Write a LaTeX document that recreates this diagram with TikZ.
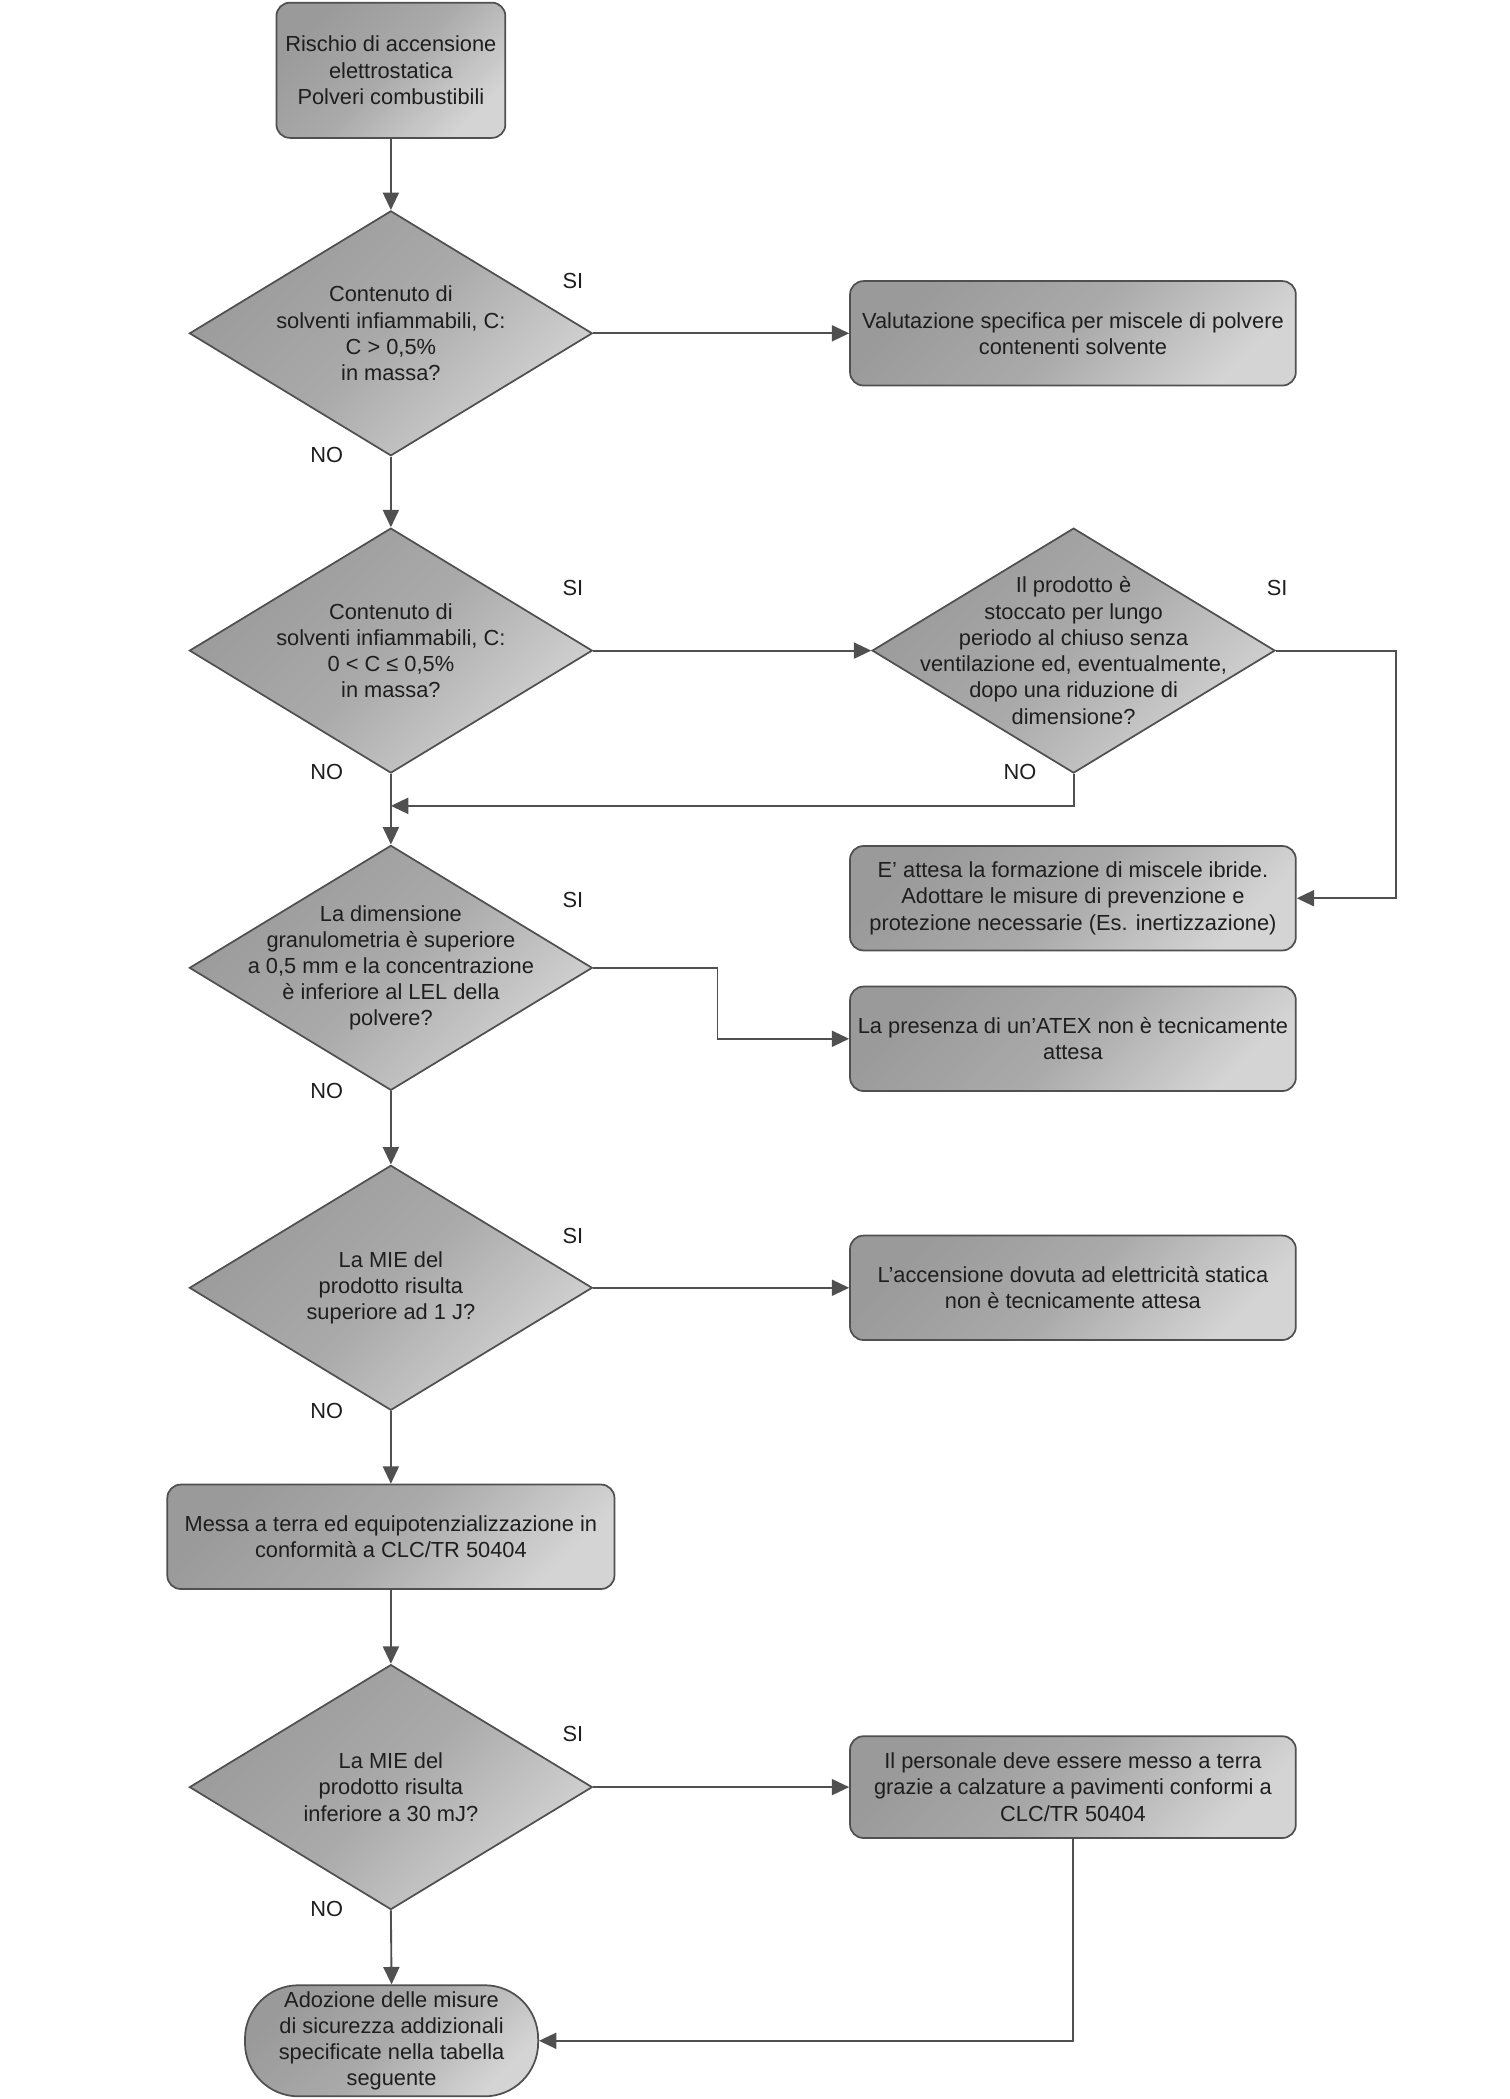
\documentclass[tikz,border=0pt]{standalone}
\usepackage{fontspec}
\setmainfont{Liberation Sans}
\usetikzlibrary{shapes.geometric,arrows.meta}
\definecolor{lncol}{HTML}{505050}
\definecolor{fillA}{HTML}{9A9A9A}
\definecolor{fillM}{HTML}{AAAAAA}
\definecolor{fillB}{HTML}{D4D4D4}
\definecolor{txtcol}{HTML}{1E1E1E}
\tikzset{
  grayfill/.style={top color=fillA, bottom color=fillB, middle color=fillM, shading angle=45},
  basefont/.style={font=\fontsize{16.3}{19.6}\selectfont, text=txtcol},
  boxnode/.style={draw=lncol, line width=1.3pt, rounded corners=10pt, grayfill,
    minimum width=333pt, minimum height=78pt, inner sep=0pt, align=center, basefont},
  dianode/.style={diamond, draw=lncol, line width=1.3pt, grayfill,
    minimum width=301pt, minimum height=183pt, inner sep=0pt},
  txt/.style={basefont, align=center, inner sep=0pt},
  lab/.style={basefont, inner sep=0pt},
  conn/.style={draw=lncol, line width=1.4pt, -{Triangle[length=13pt,width=12pt]}},
}
\begin{document}
\begin{tikzpicture}[x=1pt,y=-1pt]
\fill[white] (0,0) rectangle (1127.5,1568);
\useasboundingbox (0,0) rectangle (1127.5,1568);

% main column
\node[boxnode, minimum width=171pt, minimum height=101pt] (top) at (292,52.5)
  {Rischio di accensione\\elettrostatica\\Polveri combustibili};

\node[dianode] (d1) at (292,249) {};
\node[txt] (d1t) at (d1.center) {Contenuto di\\solventi infiammabili, C:\\C > 0,5\%\\in massa?};

\node[dianode] (d2) at (292,486) {};
\node[txt] (d2t) at (d2.center) {Contenuto di\\solventi infiammabili, C:\\0 < C ≤ 0,5\%\\in massa?};

\node[dianode] (d3) at (802,486) {};
\node[txt] (d3t) at (d3.center) {Il prodotto è\\stoccato per lungo\\periodo al chiuso senza\\ventilazione ed, eventualmente,\\dopo una riduzione di\\dimensione?};

\node[dianode] (d4) at (292,723) {};
\node[txt] (d4t) at (d4.center) {La dimensione\\granulometria è superiore\\a 0,5 mm e la concentrazione\\è inferiore al LEL della\\polvere?};

\node[dianode] (d5) at (292,962) {};
\node[txt] (d5t) at (d5.center) {La MIE del\\prodotto risulta\\superiore ad 1 J?};

\node[boxnode, minimum width=334pt] (b5) at (292,1148)
  {Messa a terra ed equipotenzializzazione in\\conformità a CLC/TR 50404};

\node[dianode] (d6) at (292,1335) {};
\node[txt] (d6t) at (d6.center) {La MIE del\\prodotto risulta\\inferiore a 30 mJ?};

\node[boxnode, minimum width=219pt, minimum height=83pt, rounded corners=40pt] (term) at (292.5,1524.5)
  {Adozione delle misure\\di sicurezza addizionali\\specificate nella tabella\\seguente};

% right column
\node[boxnode] (r1) at (801.5,249) {Valutazione specifica per miscele di polvere\\contenenti solvente};
\node[boxnode] (r2) at (801.5,671) {E’ attesa la formazione di miscele ibride.\\Adottare le misure di prevenzione e\\protezione necessarie (Es. inertizzazione)};
\node[boxnode] (r3) at (801.5,776) {La presenza di un’ATEX non è tecnicamente\\attesa};
\node[boxnode] (r4) at (801.5,962) {L’accensione dovuta ad elettricità statica\\non è tecnicamente attesa};
\node[boxnode, minimum height=76pt] (r5) at (801.5,1335) {Il personale deve essere messo a terra\\grazie a calzature a pavimenti conformi a\\CLC/TR 50404};

% helper coordinates
\coordinate (j1) at (292,602);
\coordinate (k1) at (1043,671);
\coordinate (k2) at (536,776);

% connectors
\draw[conn] (top.south) -- (d1.north);
\draw[conn] (d1.east) -- (r1.west);
\draw[conn] (d1.south) -- (d2.north);
\draw[conn] (d2.east) -- (d3.west);
\draw[conn] (d3.south) |- (j1);
\draw[conn] (d3.east) -| (k1) -- (r2.east);
\draw[conn] (d2.south) -- (d4.north);
\draw[conn] (d4.east) -| (k2) -- (r3.west);
\draw[conn] (d4.south) -- (d5.north);
\draw[conn] (d5.east) -- (r4.west);
\draw[conn] (d5.south) -- (b5.north);
\draw[conn] (b5.south) -- (d6.north);
\draw[conn] (d6.east) -- (r5.west);
\draw[conn] (d6.south) -- (term.north);
\draw[conn] (r5.south) |- (term.east);

% labels
\node[lab] (s1) at (428,210) {SI};
\node[lab] (n1) at (244,340) {NO};
\node[lab] (s2) at (428,439) {SI};
\node[lab] (n2) at (244,577) {NO};
\node[lab] (s3) at (954,439) {SI};
\node[lab] (n3) at (762,577) {NO};
\node[lab] (s4) at (428,672) {SI};
\node[lab] (n4) at (244,815) {NO};
\node[lab] (s5) at (428,923) {SI};
\node[lab] (n5) at (244,1054) {NO};
\node[lab] (s6) at (428,1295) {SI};
\node[lab] (n6) at (244,1426) {NO};
\end{tikzpicture}
\end{document}
